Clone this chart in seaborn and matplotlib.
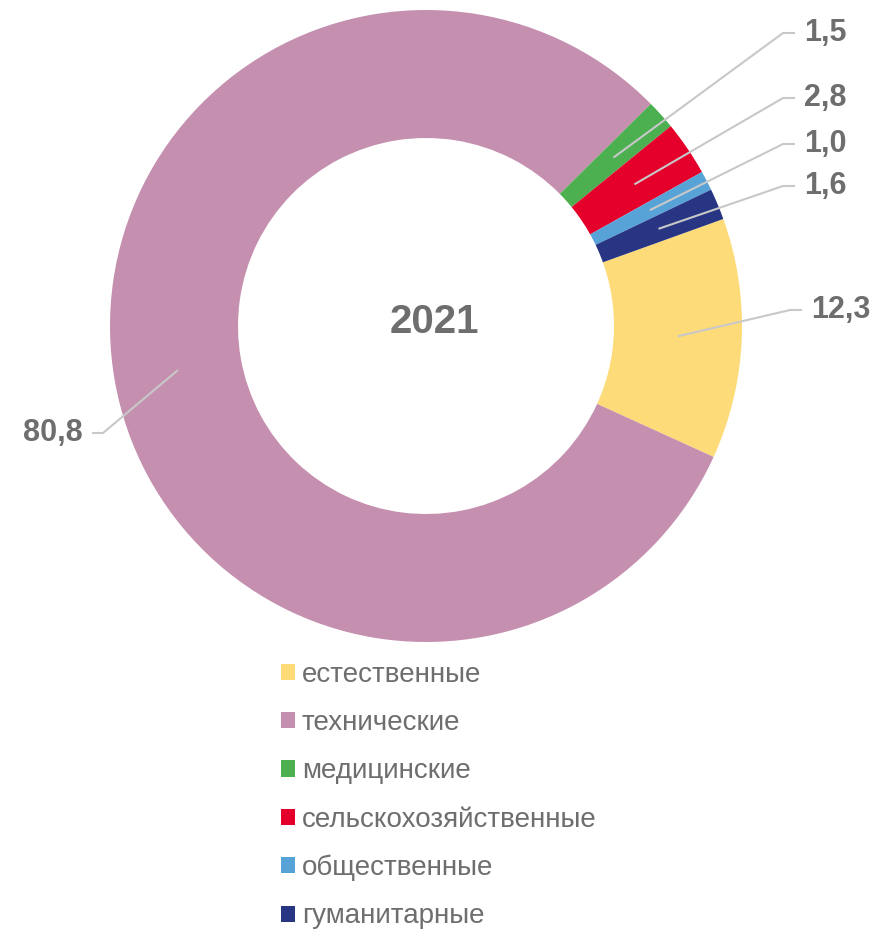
import numpy as np
import seaborn as sns
import matplotlib.pyplot as plt

# данные
categories = ['естественные', 'технические', 'медицинские',
              'сельскохозяйственные', 'общественные', 'гуманитарные']
values = [12.3, 80.8, 1.5, 2.8, 1.0, 1.6]
value_labels = ['12,3', '80,8', '1,5', '2,8', '1,0', '1,6']
year = '2021'

colors = ['#FDDB78', '#C58FAF', '#4CAF50', '#E4002B', '#57A3D8', '#283582']

sns.set_theme(style='white')
plt.rcParams['font.family'] = ['Liberation Sans', 'DejaVu Sans']

fig = plt.figure(figsize=(8.78, 9.30), dpi=100)
ax = fig.add_axes([0, 0, 1, 1])

cx, cy = 426, 930 - 326
R, W = 316, 128
wedges, _ = ax.pie(values, colors=sns.color_palette(colors), startangle=19.8,
                   counterclock=False, radius=R, center=(cx, cy),
                   wedgeprops=dict(width=W, linewidth=0), frame=True)
ax.set_xlim(0, 878)
ax.set_ylim(0, 930)
ax.set_aspect('equal')
ax.axis('off')

ax.text(cx + 8, cy + 4, year, ha='center', va='center', fontsize=29,
        fontweight='bold', color='#6E6E6E')

# положения подписей (пиксели) и изгибы выносок
label_pos = {
    '12,3': (790, 310, 'left'),
    '80,8': (103, 433, 'right'),
    '1,5': (783, 33, 'left'),
    '2,8': (783, 98, 'left'),
    '1,0': (783, 144, 'left'),
    '1,6': (783, 186, 'left'),
}
rm = R - W / 2
for w, lab in zip(wedges, value_labels):
    ang = np.deg2rad((w.theta1 + w.theta2) / 2)
    sx, sy = cx + rm * np.cos(ang), cy + rm * np.sin(ang)
    ex, ey, side = label_pos[lab]
    ey = 930 - ey
    dx = 12 if side == 'left' else -11
    ax.plot([sx, ex, ex + dx], [sy, ey, ey], color='#C8C8C8', lw=1.5,
            solid_capstyle='butt')
    tx = ex + dx + (9 if side == 'left' else -9)
    ax.text(tx, ey, lab, ha=side, va='center', fontsize=22,
            fontweight='bold', color='#6E6E6E')

leg = ax.legend(wedges, categories, loc='upper left',
                bbox_to_anchor=(267 / 878, 1 - 648 / 930), frameon=False,
                fontsize=20, handlelength=0.52, handleheight=0.52,
                handletextpad=0.23, labelspacing=0.8, borderpad=0)
for t in leg.get_texts():
    t.set_color('#6E6E6E')

fig.savefig('out.png', dpi=100)
